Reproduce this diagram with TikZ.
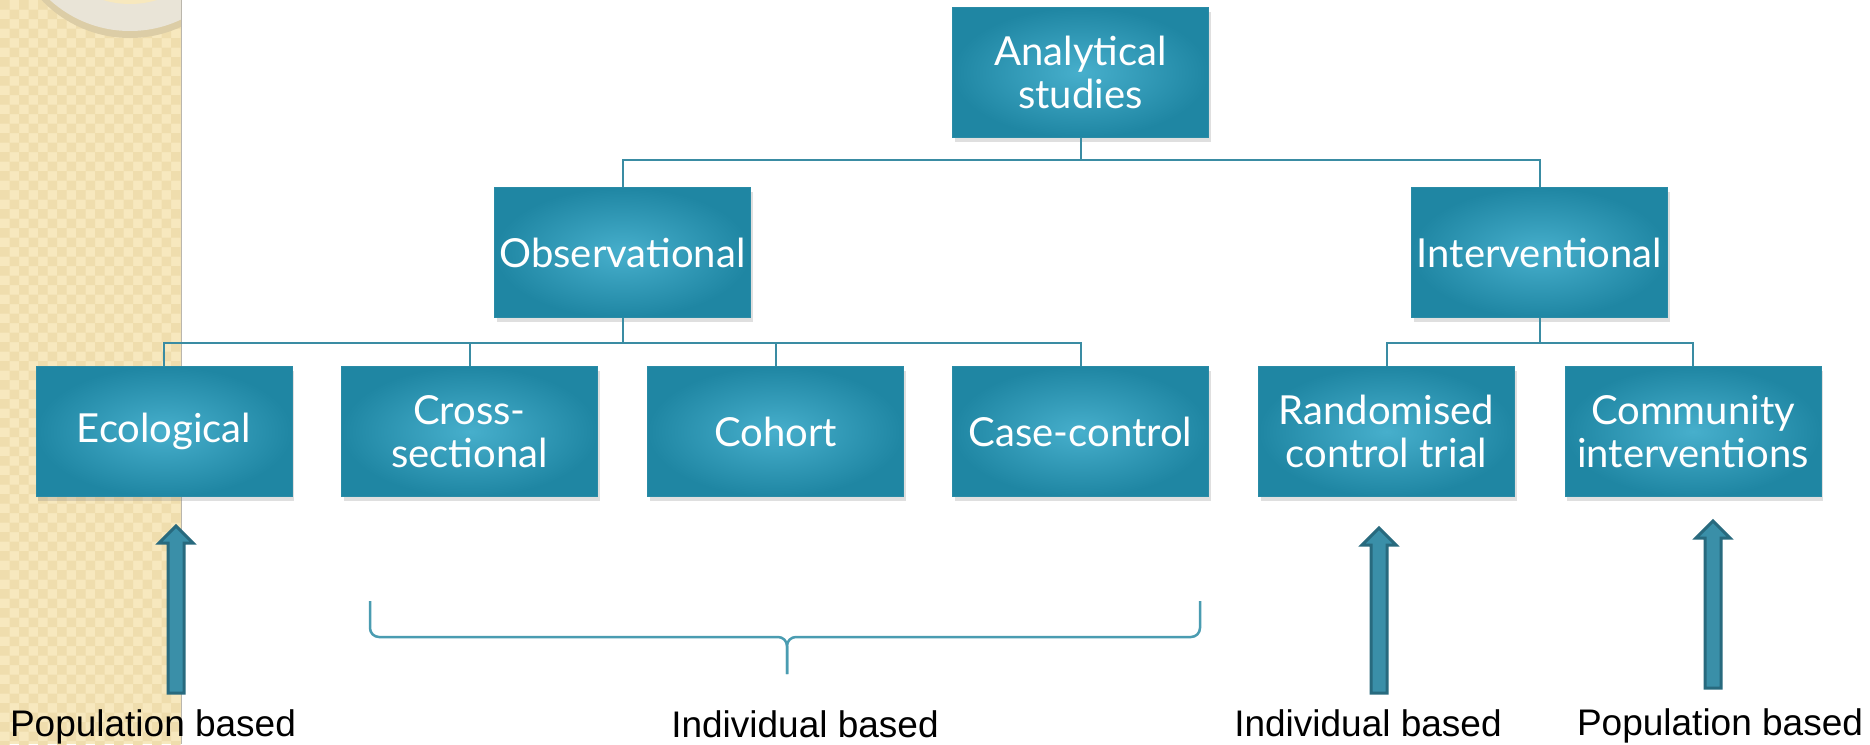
\documentclass[tikz,border=0pt]{standalone}
\usepackage{fontspec}
\setmainfont{Lato}
\newfontfamily\labelfont{Liberation Sans}
\usetikzlibrary{shadows,positioning}

\definecolor{boxlight}{HTML}{47AFCC}
\definecolor{boxdark}{HTML}{1F86A3}
\definecolor{boxedge}{HTML}{2A8BA6}
\definecolor{linkteal}{HTML}{3A8CA3}
\definecolor{braceteal}{HTML}{4A9CB1}
\definecolor{arrowedge}{HTML}{286A7E}
\definecolor{arrowfill}{HTML}{3A8FA8}
\definecolor{stripbase}{HTML}{F7E8BE}
\definecolor{stripdot}{HTML}{EFDDAD}
\definecolor{ringgrey}{HTML}{E9E4D7}
\definecolor{ringshade}{HTML}{DCCDA6}

\tikzset{
  arrowbody/.style={fill=arrowfill, draw=arrowedge, line width=3pt, line join=miter}
}

% block arrow standing on its tail: #1 tail coordinate, #2 length
\newcommand{\basedarrow}[2]{%
  \draw[arrowbody] (#1) ++(-8,0) -- ++(0,{-(#2-17)}) -- ++(-9,0) -- ++(17,-17)
    -- ++(17,17) -- ++(-9,0) -- ++(0,{#2-17}) -- cycle;}

\begin{document}
\begin{tikzpicture}[x=1pt, y=-1pt,
  studybox/.style={rectangle, minimum width=256pt, minimum height=130pt,
    inner color=boxlight, outer color=boxdark, draw=boxedge, line width=1pt,
    text=white, align=center, font=\fontsize{40}{43}\selectfont,
    drop shadow={shadow xshift=2pt, shadow yshift=-4pt, opacity=.25}},
  link/.style={draw=linkteal, line width=2pt},
  bracket/.style={draw=braceteal, line width=2.5pt, rounded corners=9pt},
  basedlabel/.style={font=\labelfont\fontsize{37}{40}\selectfont, anchor=base, inner sep=0pt}]
\useasboundingbox (0,0) rectangle (1870,744);
\fill[white] (0,0) rectangle (1870,744);

% textured side strip with the ring
\begin{scope}
\clip (0,0) rectangle (181,744);
\fill[stripbase] (0,0) rectangle (181,744);
\fill[stripdot] \foreach \x in {0,19,...,171} { \foreach \y in {0,19,...,741} {
  (\x,\y) rectangle ++(9.5,9.5) (\x+9.5,\y+9.5) rectangle ++(9.5,9.5) } };
\fill[ringshade] (130,-84) circle (122);
\fill[ringgrey] (130,-88) circle (119);
\fill[stripbase] (130,-88) circle (92);
\draw[ringshade, line width=1.5pt] (130,-88) circle (86);
\end{scope}
\draw[ringgrey!80!black, line width=1pt] (181,0) -- (181,744);

% tree
\node[studybox] (studies) at (1080.5,72.5) {Analytical\\studies};
\node[studybox] (obs) at (622.5,252.5) {Observational};
\node[studybox] (inter) at (1539.5,252.5) {Interventional};
\node[studybox] (eco) at (164,431.5) {Ecological};
\node[studybox] (cross) at (469.5,431.5) {Cross-\\sectional};
\node[studybox] (cohort) at (775.5,431.5) {Cohort};
\node[studybox] (casectl) at (1080.5,431.5) {Case-control};
\node[studybox] (rct) at (1386.5,431.5) {Randomised\\control trial};
\node[studybox] (comm) at (1693,431.5) {Community\\interventions};

\draw[link] (studies.south) -- ++(0,22) -| (obs.north);
\draw[link] (studies.south) -- ++(0,22) -| (inter.north);
\draw[link] (obs.south) -- ++(0,25) -| (eco.north);
\draw[link] (obs.south) -- ++(0,25) -| (cross.north);
\draw[link] (obs.south) -- ++(0,25) -| (cohort.north);
\draw[link] (obs.south) -- ++(0,25) -| (casectl.north);
\draw[link] (inter.south) -- ++(0,25) -| (rct.north);
\draw[link] (inter.south) -- ++(0,25) -| (comm.north);

% labels underneath
\node[basedlabel] (popEco) at (153,736) {Population based};
\node[basedlabel] (indObs) at (805,737) {Individual based};
\node[basedlabel] (indRct) at (1368,736) {Individual based};
\node[basedlabel] (popComm) at (1720,735) {Population based};

\coordinate (ecoTail) at (176,693);
\coordinate (rctTail) at (1379,693);
\coordinate (commTail) at (1713,688);
\basedarrow{ecoTail}{167}
\basedarrow{rctTail}{165}
\basedarrow{commTail}{167}

\coordinate (braceL) at (370,601);
\coordinate (braceR) at (1200,601);
\coordinate (braceTip) at (787,674);
\draw[bracket] (braceL) |- (787,637) -- (braceTip);
\draw[bracket] (braceR) |- (787,637) -- (braceTip);
\end{tikzpicture}
\end{document}
